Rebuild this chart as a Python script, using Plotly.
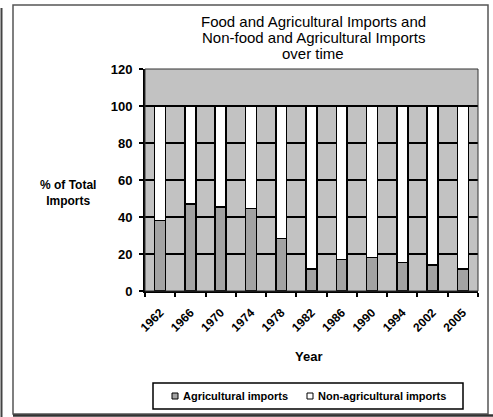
import plotly.graph_objects as go

years = ['1962', '1966', '1970', '1974', '1978', '1982', '1986', '1990', '1994', '2002', '2005']
agricultural = [38, 47, 45.5, 44.5, 28.5, 12, 17, 18, 15.5, 14, 12]
non_agricultural = [62, 53, 54.5, 55.5, 71.5, 88, 83, 82, 84.5, 86, 88]
series_names = ['Agricultural imports', 'Non-agricultural imports']
title_lines = ['Food and Agricultural Imports and', 'Non-food and Agricultural Imports', 'over time']
y_ticks = [0, 20, 40, 60, 80, 100, 120]

W, H = 493, 417
L, R, T, B = 145, 478, 69, 291
FONT = 'Liberation Sans, Arial, sans-serif'
AGRI_COLOR = '#a3a3a3'
NON_COLOR = '#ffffff'
BG = '#c2c2c2'


def px(xp):
    return (xp - L) / (R - L)


def py(yp):
    return (B - yp) / (B - T)


fig = go.Figure()
fig.add_trace(go.Bar(x=years, y=agricultural, name=series_names[0],
                     marker=dict(color=AGRI_COLOR, line=dict(color='black', width=1.5)),
                     showlegend=False))
fig.add_trace(go.Bar(x=years, y=non_agricultural, name=series_names[1],
                     marker=dict(color=NON_COLOR, line=dict(color='black', width=1.5)),
                     showlegend=False))

shapes = []
annotations = []

# outer frames
shapes.append(dict(type='rect', xref='paper', yref='paper',
                   x0=px(13), x1=px(488), y0=py(414), y1=py(5),
                   line=dict(color='#555555', width=1.5)))
shapes.append(dict(type='line', xref='paper', yref='paper',
                   x0=px(1.5), x1=px(1.5), y0=py(417), y1=py(8),
                   line=dict(color='#444444', width=2)))
shapes.append(dict(type='line', xref='paper', yref='paper',
                   x0=px(13), x1=px(493), y0=py(415.5), y1=py(415.5),
                   line=dict(color='#333333', width=2.5)))
# plot frame top/right
shapes.append(dict(type='rect', xref='paper', yref='paper', x0=0, x1=1, y0=0, y1=1,
                   line=dict(color='#333333', width=1), layer='above'))

# title lines
for i, t in enumerate(title_lines):
    annotations.append(dict(text=t, xref='paper', yref='paper', x=px(313), y=py(21.5 + 16 * i),
                            xanchor='center', yanchor='middle', showarrow=False,
                            font=dict(family=FONT, size=15, color='black')))

# y axis title
annotations.append(dict(text='% of Total<br>Imports', xref='paper', yref='paper',
                        x=px(68), y=py(193), xanchor='center', yanchor='middle', showarrow=False,
                        align='center', font=dict(family=FONT, size=12, color='black', weight='bold')))
# x axis title
annotations.append(dict(text='Year', xref='paper', yref='paper',
                        x=px(308), y=py(356), xanchor='center', yanchor='middle', showarrow=False,
                        font=dict(family=FONT, size=13, color='black', weight='bold')))

# legend (manual)
shapes.append(dict(type='rect', xref='paper', yref='paper',
                   x0=px(153), x1=px(463), y0=py(409), y1=py(383),
                   line=dict(color='black', width=1.5), fillcolor='white'))
legend_items = [(series_names[0], AGRI_COLOR, 175), (series_names[1], NON_COLOR, 310)]
for name, col, xc in legend_items:
    shapes.append(dict(type='rect', xref='paper', yref='paper',
                       x0=px(xc - 3), x1=px(xc + 3), y0=py(399), y1=py(393),
                       line=dict(color='black', width=1), fillcolor=col))
    annotations.append(dict(text=name, xref='paper', yref='paper', x=px(xc + 6), y=py(396),
                            xanchor='left', yanchor='middle', showarrow=False,
                            font=dict(family=FONT, size=11, color='black', weight='bold')))

fig.update_layout(
    width=W, height=H,
    margin=dict(l=L, r=W - R, t=T, b=H - B, pad=0),
    paper_bgcolor='white', plot_bgcolor=BG,
    barmode='stack', bargap=0.64,
    showlegend=False,
    shapes=shapes, annotations=annotations,
    font=dict(family=FONT, color='black'),
    xaxis=dict(type='category', tickson='boundaries', ticks='outside', ticklen=4,
               tickcolor='black', tickwidth=1.5, showline=True, linecolor='black', linewidth=2,
               showgrid=False, tickangle=-45, ticklabelstandoff=8,
               tickfont=dict(family=FONT, size=12, color='black', weight='bold')),
    yaxis=dict(range=[0, 120], tickvals=y_ticks, ticks='outside', ticklen=4,
               tickcolor='black', tickwidth=1.5, showline=True, linecolor='black', linewidth=2,
               showgrid=True, gridcolor='black', gridwidth=2, zeroline=False,
               ticklabelstandoff=4,
               tickfont=dict(family=FONT, size=13, color='black', weight='bold')),
)

fig.write_html('out.html')
